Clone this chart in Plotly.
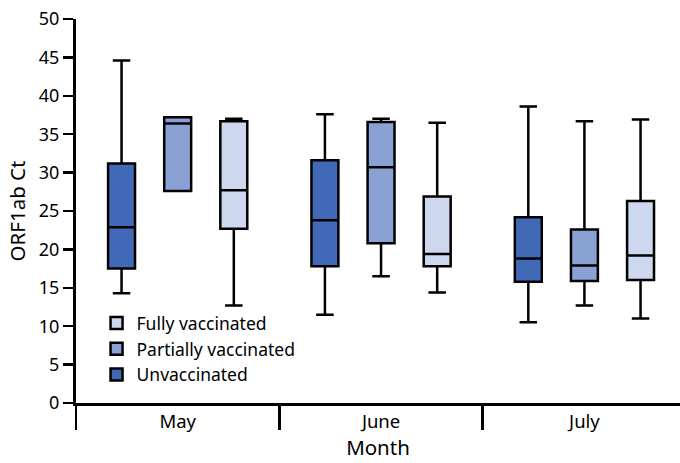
import plotly.graph_objects as go

months = ["May", "June", "July"]
series = ["Unvaccinated", "Partially vaccinated", "Fully vaccinated"]
colors = ["#4268B8", "#8AA1D4", "#CDD7EE"]

# per series: values for May, June, July
lower = {
    "Unvaccinated": [14.3, 11.5, 10.5],
    "Partially vaccinated": [27.6, 16.5, 12.7],
    "Fully vaccinated": [12.7, 14.4, 11.0],
}
q1 = {
    "Unvaccinated": [17.5, 17.8, 15.8],
    "Partially vaccinated": [27.6, 20.8, 15.9],
    "Fully vaccinated": [22.7, 17.8, 16.0],
}
median = {
    "Unvaccinated": [22.9, 23.8, 18.8],
    "Partially vaccinated": [36.4, 30.7, 17.9],
    "Fully vaccinated": [27.7, 19.4, 19.2],
}
q3 = {
    "Unvaccinated": [31.2, 31.6, 24.2],
    "Partially vaccinated": [37.2, 36.6, 22.6],
    "Fully vaccinated": [36.7, 26.9, 26.3],
}
upper = {
    "Unvaccinated": [44.6, 37.6, 38.6],
    "Partially vaccinated": [37.2, 37.0, 36.7],
    "Fully vaccinated": [37.0, 36.5, 36.9],
}

FONT = "Noto Sans"
fig = go.Figure()
for name, col in zip(series, colors):
    fig.add_trace(go.Box(
        name=name, x=months,
        q1=q1[name], median=median[name], q3=q3[name],
        lowerfence=lower[name], upperfence=upper[name],
        fillcolor=col, line=dict(color="black", width=2.5),
        whiskerwidth=0.65, boxpoints=False, hoverinfo="skip",
    ))

fig.update_layout(
    width=680, height=463,
    margin=dict(l=76, r=0, t=19, b=60),
    paper_bgcolor="white", plot_bgcolor="white",
    boxmode="group", boxgap=0.172, boxgroupgap=0.52,
    font=dict(family=FONT, size=17, color="black"),
    showlegend=True,
    legend=dict(x=0.034, y=0.255, xanchor="left", yanchor="top",
                traceorder="reversed", bgcolor="rgba(0,0,0,0)",
                font=dict(size=17.5), itemwidth=30, tracegroupgap=0),
    xaxis=dict(
        range=[-0.5, 2.47], showline=True, linecolor="black", linewidth=3,
        ticks="outside", tickson="boundaries", ticklen=24, tickwidth=2.5,
        tickcolor="black", showgrid=False, zeroline=False, automargin=False,
        title=dict(text="Month", font=dict(size=20.5), standoff=4),
        tickfont=dict(size=18.5),
    ),
    yaxis=dict(
        range=[0, 50], dtick=5, showline=True, linecolor="black", linewidth=3,
        ticks="outside", ticklen=10, tickwidth=2.5, tickcolor="black",
        showgrid=False, zeroline=False, automargin=False,
        ticklabeloverflow="allow",
        title=dict(text="ORF1ab Ct", font=dict(size=20.5), standoff=8),
        tickfont=dict(size=18),
    ),
)
fig.write_html("out.html",
               config={"displayModeBar": False, "staticPlot": True},
               post_script="document.body.style.margin='0';")
